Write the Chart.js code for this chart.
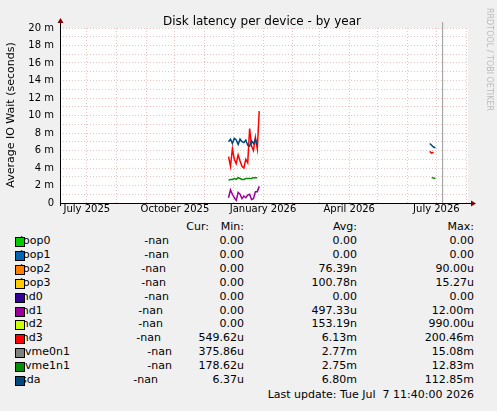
<!DOCTYPE html><html><head><meta charset="utf-8">
<script src="https://cdn.jsdelivr.net/npm/chart.js@4"></script>
<style>
body{margin:0;background:#f0f0f0;font-family:"DejaVu Sans",sans-serif;font-size:11px;color:#000;}
#wrap{position:relative;width:497px;height:411px;border:0;box-sizing:border-box;}
#c{position:absolute;left:0;top:0;}
.t{position:absolute;white-space:pre;}
.sw{position:absolute;width:8px;height:8px;border:1px solid #000;z-index:2;}
</style></head><body><div id="wrap"><canvas id="c" width="497" height="215"></canvas></div>
<script>
const title="Disk latency per device - by year";
const yTitle="Average IO Wait (seconds)";
const monthDays=[0,31,62,92,123,153,184,215,243,274,304,335,365,396];
const labelDays={0:"July 2025",92:"October 2025",184:"January 2026",274:"April 2026",365:"July 2026"};
const days=[148,150,152,154,156,158,160,162,164,166,168,170,172,174,176,178,180,200,358,360,362,364];
const sdaV=[7.0,7.3,6.8,7.4,7.2,6.7,7.3,7.0,6.9,7.2,6.6,6.5,7.1,6.8,7.3,6.6,null,null,6.8,6.6,6.4,6.3];
const md3V=[5.3,4.2,6.2,5.0,4.5,5.5,4.8,4.2,4.0,5.0,4.6,8.5,6.5,6.0,7.5,6.2,10.5,null,5.9,5.7,5.8,null];
const nvme1V=[2.6,2.7,2.7,2.8,2.7,2.9,2.8,2.7,2.7,2.8,2.8,2.8,2.8,2.9,2.9,2.9,null,null,null,2.9,2.85,2.8];
const md1V=[0.6,1.5,1.0,0.6,0.3,1.2,1.0,0.5,0.8,0.6,0.9,1.0,0.4,0.5,1.3,1.3,1.9,null,null,null,null,0.1];
const names=["loop0","loop1","loop2","loop3","md0","md1","md2","md3","nvme0n1","nvme1n1","sda"];
const colors=["#00cc00","#0066b3","#ff8000","#ffcc00","#330099","#990099","#ccff00","#ff0000","#808080","#008f00","#00487d"];
const cur=names.map(()=>"-nan");
const mins=["0.00","0.00","0.00","0.00","0.00","0.00","0.00","549.62u","375.86u","178.62u","6.37u"];
const avgs=["0.00","0.00","76.39n","100.78n","0.00","497.33u","153.19n","6.13m","2.77m","2.75m","6.80m"];
const maxs=["0.00","0.00","90.00u","15.27u","0.00","12.00m","990.00u","200.46m","15.08m","12.83m","112.85m"];
const nowDay=371;
const mk=(arr,col)=>({data:days.map((d,i)=>({x:d,y:arr[i]})),borderColor:col,borderWidth:1.5,pointRadius:0,spanGaps:false,tension:0});
const frame={id:'frame',beforeDraw(ch){const a=ch.chartArea,c=ch.ctx;c.save();c.fillStyle='#fff';c.fillRect(a.left,a.top,a.right-a.left,a.bottom-a.top);c.restore();},
afterDraw(ch){const a=ch.chartArea,c=ch.ctx,x=ch.scales.x.getPixelForValue(nowDay);c.save();c.strokeStyle='#999';c.lineWidth=1;c.beginPath();c.moveTo(x+0.5,a.top-6);c.lineTo(x+0.5,a.bottom);c.stroke();
c.strokeStyle='#000';c.beginPath();c.moveTo(a.left,a.bottom+0.5);c.lineTo(a.right+4,a.bottom+0.5);c.moveTo(a.left+0.5,a.bottom+3);c.lineTo(a.left+0.5,a.top-6);c.stroke();
c.fillStyle='#800000';c.beginPath();c.moveTo(a.right+8,a.bottom+0.5);c.lineTo(a.right+3,a.bottom-2.5);c.lineTo(a.right+3,a.bottom+3.5);c.fill();
c.beginPath();c.moveTo(a.left+0.5,a.top-10);c.lineTo(a.left-2.5,a.top-5);c.lineTo(a.left+3.5,a.top-5);c.fill();
c.fillStyle='#000';c.font='12px "DejaVu Sans"';c.textAlign='center';c.fillText(title,262,25);
c.save();c.translate(14,115);c.rotate(-Math.PI/2);c.font='11px "DejaVu Sans"';c.fillText(yTitle,0,0);c.restore();
c.save();c.translate(487,8);c.rotate(Math.PI/2);c.fillStyle='#bbb';c.font='8px "DejaVu Sans"';c.textAlign='left';c.fillText("RRDTOOL / TOBI OETIKER",0,0);c.restore();
c.restore();}};
new Chart(document.getElementById('c'),{type:'line',data:{datasets:[mk(md1V,colors[5]),mk(nvme1V,colors[9]),mk(sdaV,colors[10]),mk(md3V,colors[7])]},
options:{responsive:false,animation:false,plugins:{legend:{display:false},tooltip:{enabled:false}},
layout:{padding:{left:0,top:28,right:29,bottom:0}},
scales:{x:{type:'linear',min:-28,max:398,afterFit(s){s.height=12;},afterBuildTicks(s){s.ticks=monthDays.map(v=>({value:v}));},
ticks:{autoSkip:false,maxRotation:0,padding:0,font:{family:'DejaVu Sans',size:10},color:'#000',callback:v=>labelDays[v]||""},
grid:{color:'rgba(220,170,170,0.7)',drawTicks:false,lineWidth:1},border:{display:false,dash:[1,2]}},
y:{min:0,max:20,afterFit(s){s.width=60;},afterBuildTicks(s){s.ticks=[];for(let i=0;i<=20;i++)s.ticks.push({value:i});},
ticks:{autoSkip:false,padding:6,font:{family:'DejaVu Sans',size:10},color:'#000',callback:v=>v%2===0?(v===0?"0":v+" m"):""},
grid:{color:'rgba(220,170,170,0.7)',drawTicks:false},border:{display:false,dash:[1,2]}}}},plugins:[frame]});
const w=document.getElementById('wrap');
function txt(s,x,y,align){const d=document.createElement('div');d.className='t';d.textContent=s;d.style.top=y+'px';if(align==='r'){d.style.right=(497-x)+'px';}else d.style.left=x+'px';w.appendChild(d);}
txt("Cur:",209,220,'r');txt("Min:",244,220,'r');txt("Avg:",357,220,'r');txt("Max:",474,220,'r');
const curX=[169,169,166,166,169,163,163,161,172,172,158];
const nameX=[20,20,20,20,18,18,18,18,18,18,21];
names.forEach((n,i)=>{const y=234+i*13.9;const s=document.createElement('div');s.className='sw';s.style.left='15px';s.style.top=(y+3)+'px';s.style.background=colors[i];w.appendChild(s);
txt(n,nameX[i],y);txt(cur[i],curX[i],y,'r');txt(mins[i],244,y,'r');txt(avgs[i],357,y,'r');txt(maxs[i],474,y,'r');});
txt("Last update: Tue Jul  7 11:40:00 2026",474,388,'r');
</script></body></html>
